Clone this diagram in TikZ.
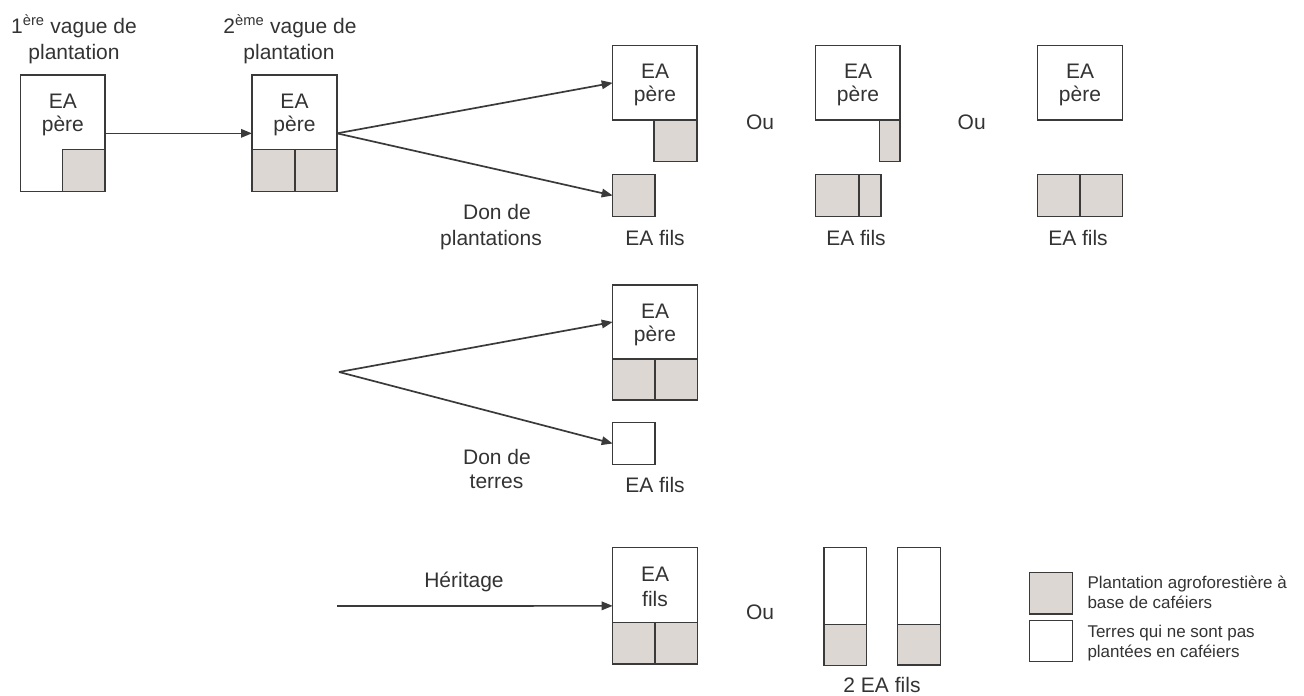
\documentclass[tikz,border=0pt]{standalone}
\usepackage{fontspec}
\setmainfont{Liberation Sans}
\usetikzlibrary{arrows.meta,fit}
\definecolor{ink}{HTML}{333333}
\definecolor{edge}{HTML}{3A3A3A}
\definecolor{coffee}{HTML}{DCD7D3}
\tikzset{
  cell/.style={draw=edge, line width=1.4pt, inner sep=0pt, outer sep=0pt, fill=white},
  planted/.style={cell, fill=coffee},
  txt/.style={anchor=base, text=ink, inner sep=0pt, font=\fontsize{21}{25}\selectfont},
  legtxt/.style={anchor=base west, text=ink, inner sep=0pt, font=\fontsize{17}{20}\selectfont},
  link/.style={draw=edge, line width=1.7pt, -{Triangle[length=11pt,width=8.5pt]}},
}
\begin{document}
\begin{tikzpicture}[x=1pt,y=-1pt]
\useasboundingbox (0,0) rectangle (1304,696);

% ---- first planting wave
\node[cell, fit={(20.7,75) (105,191.7)}] (b1) {};
\node[planted, fit={(62.7,149.3) (105,191.7)}] (b1p) {};
\node[txt] (h1a) at (74,33) {1\textsuperscript{ère} vague de};
\node[txt] (h1b) at (74,59) {plantation};
\node[txt] (b1a) at (62.9,108) {EA};
\node[txt] (b1b) at (62.9,131) {père};

% ---- second planting wave
\node[cell, fit={(252,75) (337,191.7)}] (b2) {};
\node[planted, fit={(252,149.3) (295,191.7)}] (b2p) {};
\node[planted, fit={(295,149.3) (337,191.7)}] (b2q) {};
\node[txt] (h2a) at (290,33) {2\textsuperscript{ème} vague de};
\node[txt] (h2b) at (289,59) {plantation};
\node[txt] (b2a) at (294.5,108) {EA};
\node[txt] (b2b) at (294.5,131) {père};

\draw[link] (b1.east) -- (b2.west);

% ---- gift of plantations: three outcomes
\node[cell, fit={(612.7,45.7) (697,120)}] (pA) {};
\node[planted, fit={(654,120) (697,161.7)}] (pAg) {};
\node[planted, fit={(612.7,174.3) (655,216.7)}] (fA) {};
\node[txt] (pAa) at (655,78.5) {EA};
\node[txt] (pAb) at (655,101.5) {père};
\node[txt] (fAl) at (655,245) {EA fils};

\node[txt] (ou1) at (760,129) {Ou};

\node[cell, fit={(815.7,45.7) (900,120)}] (pB) {};
\node[planted, fit={(879.3,120) (900,161.7)}] (pBg) {};
\node[planted, fit={(815.7,174.3) (858.7,216.7)}] (fB) {};
\node[planted, fit={(858.7,174.3) (881,216.7)}] (fB2) {};
\draw[edge, line width=2.4pt] (fB.north east) -- (fB.south east);
\node[txt] (pBa) at (858,78.5) {EA};
\node[txt] (pBb) at (858,101.5) {père};
\node[txt] (fBl) at (856,245) {EA fils};

\node[txt] (ou2) at (971.7,129) {Ou};

\node[cell, fit={(1037.7,45.7) (1122.3,120)}] (pC) {};
\node[planted, fit={(1037.7,174.3) (1080,216.7)}] (fC) {};
\node[planted, fit={(1080,174.3) (1122.3,216.7)}] (fC2) {};
\node[txt] (pCa) at (1080,78.5) {EA};
\node[txt] (pCb) at (1080,101.5) {père};
\node[txt] (fCl) at (1078,245) {EA fils};

\draw[link] (b2.east) -- (pA.west);
\draw[link] (b2.east) -- (fA.west);
\node[txt] (d1a) at (497,219.3) {Don de};
\node[txt] (d1b) at (491,245) {plantations};

% ---- gift of land
\coordinate (split) at (339,372);
\node[cell, fit={(612.7,285) (697.3,359)}] (pM) {};
\node[planted, fit={(612.7,359) (655,400)}] (pMg) {};
\node[planted, fit={(655,359) (697.3,400)}] (pMh) {};
\node[cell, fit={(612.7,422.7) (655,464.3)}] (fM) {};
\node[txt] (pMa) at (655,318) {EA};
\node[txt] (pMb) at (655,341) {père};
\node[txt] (fMl) at (655,492.7) {EA fils};
\draw[link] (split) -- (pM.west);
\draw[link] (split) -- (fM.west);
\node[txt] (d2a) at (497,464) {Don de};
\node[txt] (d2b) at (496.5,488) {terres};

% ---- inheritance
\coordinate (hstart) at (337,606);
\node[cell, fit={(612.7,547.7) (697.3,664)}] (fH) {};
\node[planted, fit={(612.7,622.3) (655,664)}] (fHg) {};
\node[planted, fit={(655,622.3) (697.3,664)}] (fHh) {};
\node[txt] (fHa) at (655,581) {EA};
\node[txt] (fHb) at (655,606) {fils};
\draw[link] (hstart) -- (fH.west);
\node[txt] (her) at (464,587) {Héritage};

\node[txt] (ou3) at (760,619) {Ou};

\node[cell, fit={(824,547.7) (866.7,665.7)}] (t1) {};
\node[planted, fit={(824,624.3) (866.7,665.7)}] (t1g) {};
\node[cell, fit={(897.7,547.7) (940.3,665.7)}] (t2) {};
\node[planted, fit={(897.7,624.3) (940.3,665.7)}] (t2g) {};
\draw[edge, line width=0.8pt] (t2g.south west) ++(0,-1.8) -- ++(42.6,0);
\node[txt] (two) at (882,692) {2 EA fils};

% ---- legend
\node[planted, fit={(1029.3,572.3) (1072.7,614)}] (lg1) {};
\node[cell, fit={(1029.3,620.7) (1072.7,661.7)}] (lg2) {};
\node[legtxt] (lt1) at (1087.3,588.5) {Plantation agroforestière à};
\node[legtxt] (lt2) at (1087.3,608.8) {base de caféiers};
\node[legtxt] (lt3) at (1087.3,637.5) {Terres qui ne sont pas};
\node[legtxt] (lt4) at (1087.3,657.8) {plantées en caféiers};
\end{tikzpicture}
\end{document}
